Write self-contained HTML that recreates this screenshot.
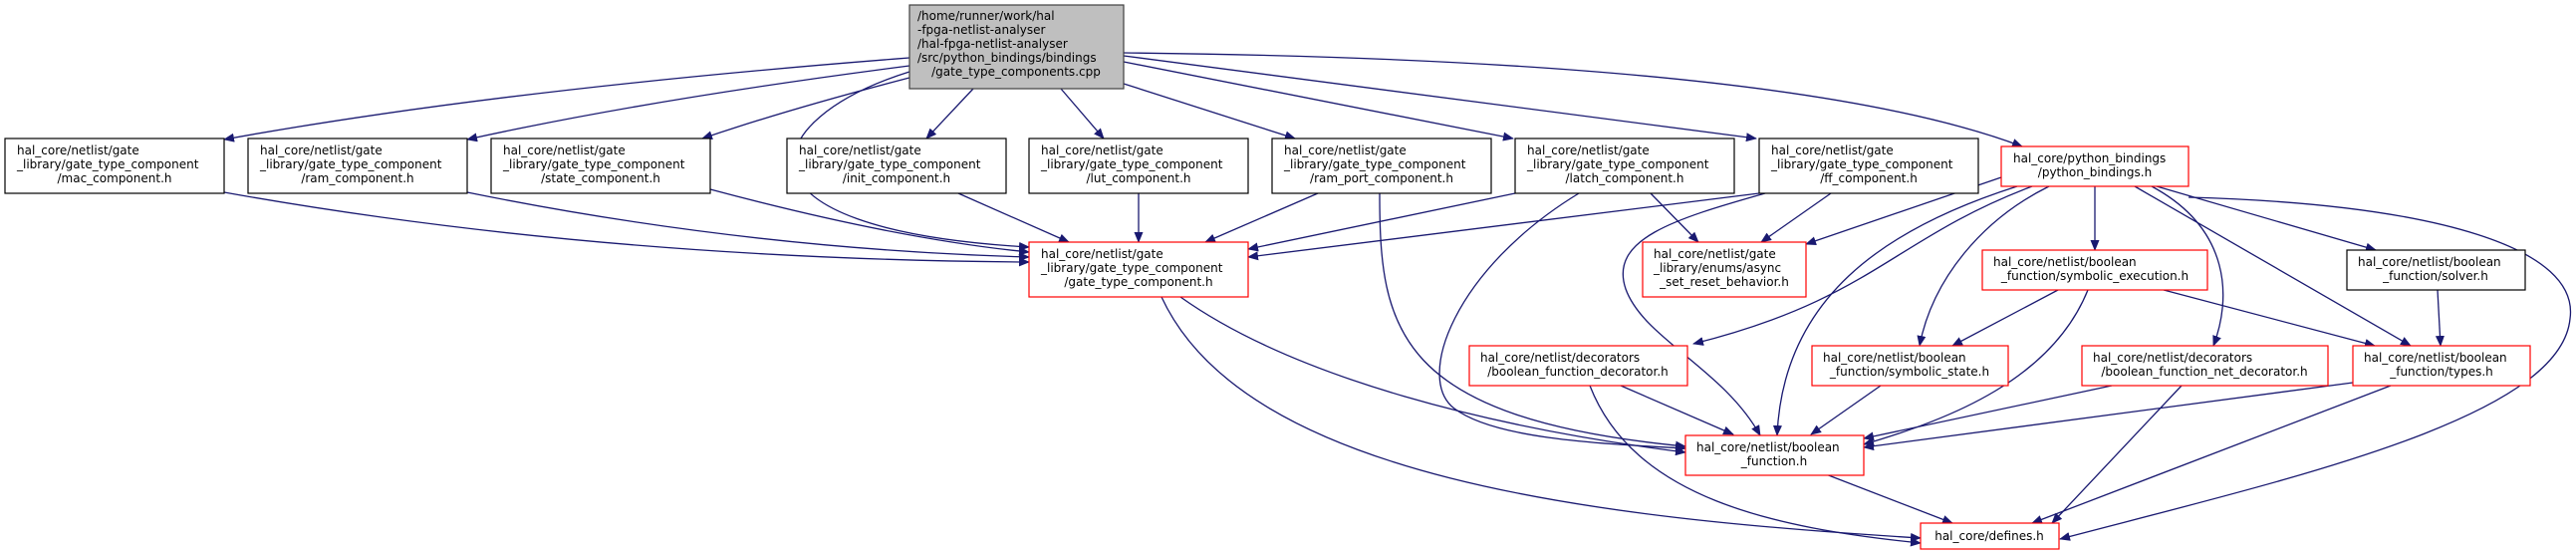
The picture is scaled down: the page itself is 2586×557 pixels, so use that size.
<!DOCTYPE html>
<html><head><meta charset="utf-8"><style>
html,body{margin:0;padding:0;background:#fff;}
svg{display:block;}
text{font-family:"DejaVu Sans","Liberation Sans",sans-serif;font-size:12px;fill:#000;}
.e{fill:none;stroke:#191970;stroke-width:1.3;marker-end:url(#a);}
.b{fill:#fff;stroke:#000;stroke-width:1.2;}
.r{fill:#fff;stroke:#ff0000;stroke-width:1.2;}
.m{text-anchor:middle;}
</style></head><body>
<svg width="2586" height="557" viewBox="0 0 2586 557" xmlns="http://www.w3.org/2000/svg">
<defs><marker id="a" markerUnits="userSpaceOnUse" markerWidth="11" markerHeight="9" refX="10" refY="4.5" orient="auto"><path d="M0,0 L11,4.5 L0,9 z" fill="#191970"/></marker></defs>

<!-- edges -->
<path class="e" d="M913,58 Q500,90 225,140"/>
<path class="e" d="M913,66 Q650,100 469,140"/>
<path class="e" d="M913,78 Q790,110 705,139"/>
<path class="e" d="M913,72 C760,120 720,230 1033,248"/>
<path class="e" d="M977,89 L930,139"/>
<path class="e" d="M1065,89 L1108,139"/>
<path class="e" d="M1128,84 L1300,139"/>
<path class="e" d="M1128,62 L1519,139"/>
<path class="e" d="M1128,56 L1763,139"/>
<path class="e" d="M1128,53 Q1800,60 2030,147"/>

<path class="e" d="M225,193 Q600,260 1033,263"/>
<path class="e" d="M469,193 Q750,250 1033,258"/>
<path class="e" d="M713,190 Q900,240 1033,253"/>
<path class="e" d="M962,194 L1073,243"/>
<path class="e" d="M1143,194 L1143,243"/>
<path class="e" d="M1323,194 L1210,243"/>
<path class="e" d="M1521,194 L1253,250"/>
<path class="e" d="M1766,194 L1253,258"/>
<path class="e" d="M1657,194 L1705,243"/>
<path class="e" d="M1838,194 L1768,243"/>
<path class="e" d="M2009,178 L1813,245"/>

<path class="e" d="M1385,194 C1385,330 1400,420 1692,448"/>
<path class="e" d="M1585,194 C1460,270 1420,380 1460,410 C1500,440 1600,445 1692,450"/>
<path class="e" d="M1185,298 C1300,380 1500,430 1692,454"/>
<path class="e" d="M1166,298 C1250,480 1600,520 1928,540"/>
<path class="e" d="M1772,194 C1680,220 1615,240 1632,290 C1650,340 1730,370 1767,437"/>
<path class="e" d="M2025,187 C1890,230 1790,300 1784,437"/>
<path class="e" d="M2040,187 C1900,240 1880,300 1700,345"/>
<path class="e" d="M2057,187 C1990,220 1940,280 1927,347"/>
<path class="e" d="M2103,187 L2103,251"/>
<path class="e" d="M2160,187 C2240,230 2240,300 2222,347"/>
<path class="e" d="M2143,187 L2420,347"/>
<path class="e" d="M2165,187 L2385,251"/>
<path class="e" d="M2197,198 C2450,205 2590,250 2580,320 C2570,420 2300,480 2068,541"/>

<path class="e" d="M2066,291 L1960,347"/>
<path class="e" d="M2096,291 C2060,380 1960,420 1871,446"/>
<path class="e" d="M2172,291 L2384,347"/>
<path class="e" d="M2447,291 L2450,347"/>
<path class="e" d="M1627,387 L1740,436"/>
<path class="e" d="M1596,387 C1640,500 1780,530 1928,545"/>
<path class="e" d="M1888,387 L1818,436"/>
<path class="e" d="M2120,387 L1871,440"/>
<path class="e" d="M2190,387 L2060,525"/>
<path class="e" d="M2362,384 L1871,449"/>
<path class="e" d="M2400,387 L2040,525"/>
<path class="e" d="M1833,476 L1960,525"/>

<!-- root -->
<rect x="913" y="5" width="215" height="84" fill="#bfbfbf" stroke="#404040" stroke-width="1.2"/>
<text x="921" y="20">/home/runner/work/hal</text>
<text x="921" y="34">-fpga-netlist-analyser</text>
<text x="921" y="48">/hal-fpga-netlist-analyser</text>
<text x="921" y="62">/src/python_bindings/bindings</text>
<text x="1020" y="76" class="m">/gate_type_components.cpp</text>

<!-- row1 -->
<g>
<rect class="b" x="5" y="139" width="220" height="55"/>
<text x="17" y="155">hal_core/netlist/gate</text><text x="17" y="169">_library/gate_type_component</text><text x="115" y="183" class="m">/mac_component.h</text>
<rect class="b" x="249" y="139" width="220" height="55"/>
<text x="261" y="155">hal_core/netlist/gate</text><text x="261" y="169">_library/gate_type_component</text><text x="359" y="183" class="m">/ram_component.h</text>
<rect class="b" x="493" y="139" width="220" height="55"/>
<text x="505" y="155">hal_core/netlist/gate</text><text x="505" y="169">_library/gate_type_component</text><text x="603" y="183" class="m">/state_component.h</text>
<rect class="b" x="790" y="139" width="220" height="55"/>
<text x="802" y="155">hal_core/netlist/gate</text><text x="802" y="169">_library/gate_type_component</text><text x="900" y="183" class="m">/init_component.h</text>
<rect class="b" x="1033" y="139" width="220" height="55"/>
<text x="1045" y="155">hal_core/netlist/gate</text><text x="1045" y="169">_library/gate_type_component</text><text x="1143" y="183" class="m">/lut_component.h</text>
<rect class="b" x="1277" y="139" width="220" height="55"/>
<text x="1289" y="155">hal_core/netlist/gate</text><text x="1289" y="169">_library/gate_type_component</text><text x="1387" y="183" class="m">/ram_port_component.h</text>
<rect class="b" x="1521" y="139" width="220" height="55"/>
<text x="1533" y="155">hal_core/netlist/gate</text><text x="1533" y="169">_library/gate_type_component</text><text x="1631" y="183" class="m">/latch_component.h</text>
<rect class="b" x="1766" y="139" width="220" height="55"/>
<text x="1778" y="155">hal_core/netlist/gate</text><text x="1778" y="169">_library/gate_type_component</text><text x="1876" y="183" class="m">/ff_component.h</text>
<rect class="r" x="2009" y="147" width="188" height="40"/>
<text x="2021" y="163">hal_core/python_bindings</text><text x="2103" y="177" class="m">/python_bindings.h</text>
</g>

<!-- row2 -->
<rect class="r" x="1033" y="243" width="220" height="55"/>
<text x="1045" y="259">hal_core/netlist/gate</text><text x="1045" y="273">_library/gate_type_component</text><text x="1143" y="287" class="m">/gate_type_component.h</text>
<rect class="r" x="1649" y="243" width="164" height="55"/>
<text x="1660" y="259">hal_core/netlist/gate</text><text x="1660" y="273">_library/enums/async</text><text x="1731" y="287" class="m">_set_reset_behavior.h</text>
<rect class="r" x="1990" y="251" width="226" height="40"/>
<text x="2001" y="267">hal_core/netlist/boolean</text><text x="2103" y="281" class="m">_function/symbolic_execution.h</text>
<rect class="b" x="2356" y="251" width="179" height="40"/>
<text x="2367" y="267">hal_core/netlist/boolean</text><text x="2445" y="281" class="m">_function/solver.h</text>

<!-- row3 -->
<rect class="r" x="1475" y="347" width="219" height="40"/>
<text x="1486" y="363">hal_core/netlist/decorators</text><text x="1584" y="377" class="m">/boolean_function_decorator.h</text>
<rect class="r" x="1819" y="347" width="197" height="40"/>
<text x="1830" y="363">hal_core/netlist/boolean</text><text x="1917" y="377" class="m">_function/symbolic_state.h</text>
<rect class="r" x="2090" y="347" width="247" height="40"/>
<text x="2101" y="363">hal_core/netlist/decorators</text><text x="2213" y="377" class="m">/boolean_function_net_decorator.h</text>
<rect class="r" x="2362" y="347" width="178" height="40"/>
<text x="2373" y="363">hal_core/netlist/boolean</text><text x="2451" y="377" class="m">_function/types.h</text>

<rect class="r" x="1692" y="437" width="179" height="40"/>
<text x="1703" y="453">hal_core/netlist/boolean</text><text x="1781" y="467" class="m">_function.h</text>
<rect class="r" x="1928" y="525" width="139" height="26"/>
<text x="1997" y="542" class="m">hal_core/defines.h</text>
</svg>
</body></html>
